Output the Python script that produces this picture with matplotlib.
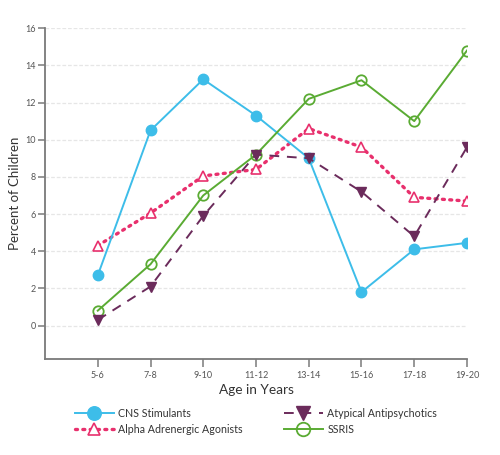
import matplotlib
matplotlib.use("Agg")
import matplotlib.pyplot as plt

plt.rcParams["font.family"] = ["Lato", "DejaVu Sans"]

age_groups = ["5-6", "7-8", "9-10", "11-12", "13-14", "15-16", "17-18", "19-20"]
cns_stimulants = [2.7, 10.5, 13.25, 11.3, 9.0, 1.8, 4.1, 4.45]
alpha_agonists = [4.3, 6.05, 8.05, 8.4, 10.6, 9.6, 6.9, 6.7]
atypical_antipsychotics = [0.3, 2.1, 5.9, 9.2, 9.0, 7.2, 4.8, 9.6]
ssris = [0.8, 3.3, 7.0, 9.2, 12.2, 13.2, 11.0, 14.8]
y_ticks = [0, 2, 4, 6, 8, 10, 12, 14, 16]

blue = "#3dbde9"
pink = "#e8306d"
purple = "#6b2b5b"
green = "#5aab33"
axis_gray = "#7a7a7a"

fig = plt.figure(figsize=(5.0, 4.55), dpi=100)
ax = fig.add_axes([0.09, 0.211, 0.844, 0.727])

x = list(range(1, len(age_groups) + 1))

h_cns, = ax.plot(x, cns_stimulants, color=blue, lw=1.4, marker="o", ms=7.5,
                 mfc=blue, mec=blue, label="CNS Stimulants", zorder=4)
h_alpha, = ax.plot(x, alpha_agonists, color=pink, lw=2.4, ls=(0, (0.6, 1.6)),
                   dash_capstyle="round", marker="^", ms=7, mfc="white",
                   mec=pink, mew=1.2, label="Alpha Adrenergic Agonists",
                   zorder=3)
h_atyp, = ax.plot(x, atypical_antipsychotics, color=purple, lw=1.4,
                  ls=(0, (5, 4)), marker="v", ms=7.5, mfc=purple, mec=purple,
                  label="Atypical Antipsychotics", zorder=5)
h_ssri, = ax.plot(x, ssris, color=green, lw=1.4, marker="o", ms=7.5,
                  mfc="none", mec=green, mew=1.3, label="SSRIS", zorder=4)

ax.set_xlim(0, len(age_groups))
ax.set_ylim(-1.8, 16)
ax.set_xticks(x)
ax.set_xticklabels(age_groups)
ax.set_yticks(y_ticks)

for yv in y_ticks:
    ax.axhline(yv, color="#e6e6e6", lw=0.9, ls=(0, (3, 1.5)), zorder=0)

for side in ("top", "right"):
    ax.spines[side].set_visible(False)
for side in ("left", "bottom"):
    ax.spines[side].set_color(axis_gray)
    ax.spines[side].set_linewidth(1.3)

ax.tick_params(axis="both", colors=axis_gray, labelcolor="#555555",
               labelsize=6.5, width=1.1)
ax.tick_params(axis="x", length=5.5, pad=3)
ax.tick_params(axis="y", length=5, pad=1.5)

ax.set_ylabel("Percent of Children", fontsize=9.5, color="#333333")
ax.yaxis.set_label_coords(-0.057, 0.5)
ax.set_xlabel("Age in Years", fontsize=9.8, color="#333333")
ax.xaxis.set_label_coords(0.50, -0.076)

leg_kw = dict(frameon=False, fontsize=7.7, handlelength=3.6, markerscale=1.3,
              handletextpad=0.45, labelspacing=0.42, labelcolor="#333333",
              borderpad=0, borderaxespad=0, loc="upper left")
fig.legend(handles=[h_cns, h_alpha], bbox_to_anchor=(0.15, 0.103), **leg_kw)
fig.legend(handles=[h_atyp, h_ssri], bbox_to_anchor=(0.568, 0.103), **leg_kw)

fig.savefig("out.png", dpi=100)
